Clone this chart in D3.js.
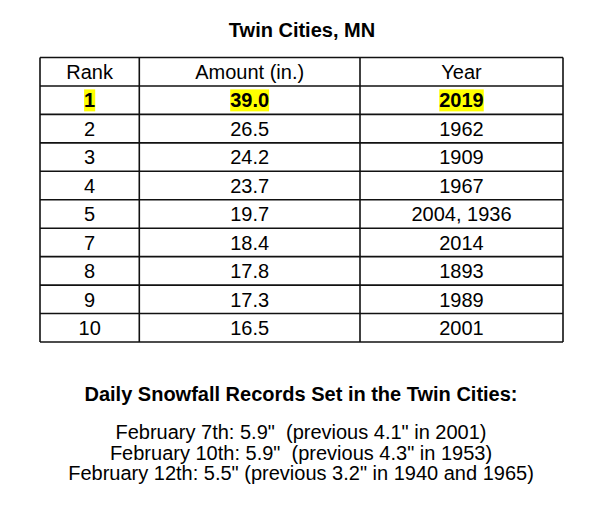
<!DOCTYPE html>
<html>
<head>
<meta charset="utf-8">
<script src="https://cdn.jsdelivr.net/npm/d3@7"></script>
<style>
  html, body { margin: 0; padding: 0; background: #fff; }
  svg text { font-family: Arial, "Liberation Sans", sans-serif; fill: #000; }
</style>
</head>
<body>
<svg id="chart" width="601" height="518"></svg>
<script>
// table data
const title = "Twin Cities, MN";
const columns = ["Rank", "Amount (in.)", "Year"];
const ranks = ["1", "2", "3", "4", "5", "7", "8", "9", "10"];
const amounts = [39.0, 26.5, 24.2, 23.7, 19.7, 18.4, 17.8, 17.3, 16.5];
const years = ["2019", "1962", "1909", "1967", "2004, 1936", "2014", "1893", "1989", "2001"];
const recordRows = [0]; // highlighted row(s)

const notesTitle = "Daily Snowfall Records Set in the Twin Cities:";
const notes = [
    "February 7th: 5.9\"  (previous 4.1\" in 2001)",
    "February 10th: 5.9\"  (previous 4.3\" in 1953)",
    "February 12th: 5.5\" (previous 3.2\" in 1940 and 1965)"
];

function drawTable() {
    const svg = d3.select("#chart");
    svg.selectAll("*").remove();

    const colEdges = [40, 139.3, 360, 563];
    const top = 57.5, bottom = 342;

    const rows = [columns].concat(ranks.map((r, i) => [r, amounts[i].toFixed(1), years[i]]));

    const y = d3.scaleBand().domain(d3.range(rows.length)).range([top, bottom]);
    const xMid = d3.scaleOrdinal().domain(d3.range(3))
        .range(d3.range(3).map(i => (colEdges[i] + colEdges[i + 1]) / 2));

    // title
    svg.append("text")
        .attr("x", 302).attr("y", 37)
        .attr("text-anchor", "middle")
        .style("font-size", "20px").style("font-weight", "bold")
        .text(title);

    // cells text
    const rowG = svg.append("g").selectAll("g")
        .data(rows)
        .enter().append("g")
        .attr("transform", (d, i) => `translate(0,${y(i) + y.bandwidth() / 2 + 7.2})`);

    const cell = rowG.selectAll("text")
        .data((d, i) => d.map((v, j) => ({ v, j, rec: recordRows.includes(i - 1) })))
        .enter().append("text")
        .attr("x", d => xMid(d.j))
        .attr("text-anchor", "middle")
        .style("font-size", "20px")
        .style("font-weight", d => d.rec ? "bold" : "normal")
        .text(d => d.v);

    // yellow highlight behind record row
    cell.filter(d => d.rec).each(function () {
        const b = this.getBBox();
        d3.select(this.parentNode).insert("rect", "text")
            .attr("x", b.x).attr("y", b.y)
            .attr("width", b.width).attr("height", b.height)
            .attr("fill", "#ffff00");
    });

    // grid lines
    const grid = svg.append("g").attr("stroke", "#111").attr("stroke-width", 1.6);
    grid.selectAll("line.h")
        .data(d3.range(rows.length + 1))
        .enter().append("line")
        .attr("x1", colEdges[0]).attr("x2", colEdges[3])
        .attr("y1", i => i === rows.length ? bottom : y(i))
        .attr("y2", i => i === rows.length ? bottom : y(i));
    grid.selectAll("line.v")
        .data(colEdges)
        .enter().append("line")
        .attr("x1", d => d).attr("x2", d => d)
        .attr("y1", top).attr("y2", bottom);

    // notes below
    svg.append("text")
        .attr("x", 301).attr("y", 401)
        .attr("text-anchor", "middle")
        .style("font-size", "20px").style("font-weight", "bold")
        .text(notesTitle);

    svg.append("g").selectAll("text")
        .data(notes)
        .enter().append("text")
        .attr("x", 301)
        .attr("y", (d, i) => 439 + i * 20.5)
        .attr("text-anchor", "middle")
        .style("font-size", "20px")
        .style("white-space", "pre")
        .text(d => d);
}

drawTable();
</script>
</body>
</html>
